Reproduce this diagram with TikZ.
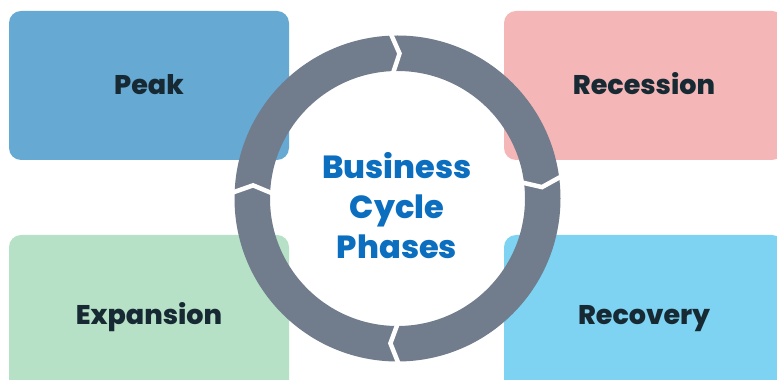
\documentclass[tikz,border=0pt]{standalone}
\usepackage{fontspec}
\setmainfont{Poppins}[BoldFont={Poppins ExtraBold}]
\definecolor{peakc}{HTML}{66A9D3}
\definecolor{recessc}{HTML}{F5B6B7}
\definecolor{expandc}{HTML}{B7E1C6}
\definecolor{recovc}{HTML}{7DD3F1}
\definecolor{ringc}{HTML}{717C8C}
\definecolor{titlec}{HTML}{0B6EBE}
\definecolor{labelc}{HTML}{172A34}
\tikzset{
  phasebox/.style={rounded corners=12pt, minimum width=280pt, inner sep=0pt,
    text=labelc, font=\fontsize{27}{30}\selectfont\bfseries,
    text height=19pt, text depth=0pt},
  gapline/.style={draw=white, line width=4.5pt, line join=miter, line cap=butt},
  titletext/.style={text=titlec, align=center, font=\fontsize{32}{40}\selectfont\bfseries}
}
\begin{document}
\begin{tikzpicture}[x=1pt,y=1pt]
\useasboundingbox (0,0) rectangle (777,380);
\clip (0,0) rectangle (777,380);
% boxes
\node[phasebox, fill=peakc, minimum height=149pt] (peak) at (149,294.5) {Peak};
\node[phasebox, fill=recessc, minimum height=149pt] (recession) at (644,294.5) {Recession};
\node[phasebox, fill=expandc, minimum height=160pt] (expansion) at (149,65) {Expansion};
\node[phasebox, fill=recovc, minimum height=160pt] (recovery) at (644,65) {Recovery};
% ring
\coordinate (c) at (397.5,181.5);
\fill[ringc, even odd rule] (c) circle[radius=163pt] (c) circle[radius=127.5pt];
\foreach \a in {93,8.3,-89,178.6}{
  \draw[gapline] ([shift={(c)}]\a:170pt) -- ([shift={(c)}]\a-3.8:145pt) -- ([shift={(c)}]\a:120pt);
}
\node[titletext] (title) at (397,174.5) {Business\\Cycle\\Phases};
\end{tikzpicture}
\end{document}
